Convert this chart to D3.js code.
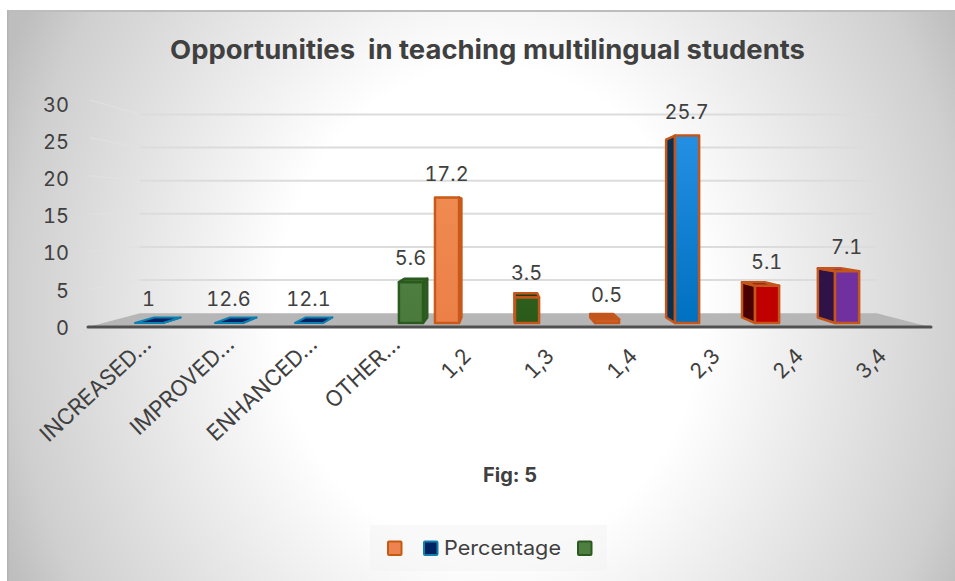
<!DOCTYPE html>
<html><head><meta charset="utf-8">
<script src="https://cdn.jsdelivr.net/npm/d3@7"></script>
<style>html,body{margin:0;padding:0;background:#fff}svg{display:block}text{font-variant-numeric:tabular-nums;font-feature-settings:"tnum"}</style>
</head><body><svg id="c" width="955" height="581"></svg>
<script>
const categories = ["INCREASED…","IMPROVED…","ENHANCED…","OTHER…","1,2","1,3","1,4","2,3","2,4","3,4"];
const seriesOrange = [null,null,null,null,17.2,3.5,0.5,25.7,5.1,7.1];
const seriesBlue   = [0,0,0,null,null,null,null,null,null,null];
const seriesGreen  = [null,null,null,5.6,null,null,null,null,null,null];
const dataLabels   = ["1","12.6","12.1","5.6","17.2","3.5","0.5","25.7","5.1","7.1"];
const yTicks = [0,5,10,15,20,25,30];
const legendNames = ["","Percentage",""];
const titleText = "Opportunities  in teaching multilingual students";
const captionText = "Fig: 5";

// styles per bar: front top, front bottom, side, top face, outline
const outline = "#c5561b";
const barStyles = [
 ["#002060","#002060","#002060","#002060","#0f7fb0"],
 ["#002060","#002060","#002060","#002060","#0f7fb0"],
 ["#002060","#002060","#002060","#002060","#0f7fb0"],
 ["#4f7f40","#4a7a3c","#2f5f22","#356a28","#2b5a1f"],
 ["#ef8a50","#ec8048","#c55a11","#d86d2a","#c8591a"],
 ["#2d5f1c","#2a5a18","#1f4512","#1d3f10",outline],
 ["#d0602a","#d0602a","#b04f1c","#c0561f",outline],
 ["#2490e4","#0070c0","#0b2f4f","#14507f",outline],
 ["#c00000","#c00000","#4a0000","#5f0a0a",outline],
 ["#7030a0","#7030a0","#2e1248","#5a2a80",outline]
];

const svg = d3.select("#c");
const defs = svg.append("defs");
const bg = defs.append("radialGradient").attr("id","bg").attr("gradientUnits","userSpaceOnUse")
  .attr("cx",0).attr("cy",0).attr("r",530)
  .attr("gradientTransform","translate(490,310) scale(1,1.15)");
[[0,"#fff"],[0.4,"#fff"],[0.9,"#cfcfcf"],[1,"#bebebe"]].forEach(s=>bg.append("stop").attr("offset",s[0]).attr("stop-color",s[1]));
barStyles.forEach((s,i)=>{
  const g = defs.append("linearGradient").attr("id","f"+i).attr("x1",0).attr("y1",0).attr("x2",0).attr("y2",1);
  g.append("stop").attr("offset",0).attr("stop-color",s[0]);
  g.append("stop").attr("offset",1).attr("stop-color",s[1]);
});

svg.append("rect").attr("x",7).attr("y",10).attr("width",948).attr("height",571).attr("fill","url(#bg)");
svg.append("rect").attr("x",7).attr("y",10).attr("width",948).attr("height",2).attr("fill","#bdbdbd");
svg.append("rect").attr("x",7).attr("y",10).attr("width",1.5).attr("height",571).attr("fill","#b4b4b4");

// perspective: front plane scales, shrunk toward a vanishing point
const vx = 504, vy = 216, sBack = 0.875, sFront = 0.964, sRear = 0.914;
const px = (x,s)=>vx+s*(x-vx), py = (y,s)=>vy+s*(y-vy);
const y = d3.scaleLinear().domain([0,30]).range([327,100]);
const yLab = d3.scaleLinear().domain([0,30]).range([327,104]);
const x = d3.scaleBand().domain(categories).range([94.2,924.2]);
const plotL = 88, plotR = 930;

// gridlines
const grid = svg.append("g");
yTicks.filter(t=>t>0).forEach(t=>{
  grid.append("line").attr("x1",plotL+2).attr("y1",y(t)).attr("x2",px(plotL,sBack)).attr("y2",py(y(t),sBack))
    .attr("stroke","#e2e2e2").attr("stroke-width",1.5).attr("opacity",0.7);
  grid.append("line").attr("x1",px(plotL,sBack)).attr("y1",py(y(t),sBack)).attr("x2",px(plotR,sBack)).attr("y2",py(y(t),sBack))
    .attr("stroke","#dcdcdc").attr("stroke-width",2);
});
// floor
const poly = pts=>pts.map(p=>p.join(",")).join(" ");
svg.append("polygon").attr("fill","#b6b6b6").attr("points",poly([
  [plotL,y(0)],[px(plotL,sBack),py(y(0),sBack)],[px(plotR,sBack),py(y(0),sBack)],[plotR,y(0)]]));
svg.append("line").attr("x1",plotL).attr("x2",plotR+1).attr("y1",y(0)).attr("y2",y(0))
  .attr("stroke","#505050").attr("stroke-width",3).attr("stroke-linecap","round");

// y axis
const axis = d3.axisLeft(yLab).tickValues(yTicks).tickSize(0).tickPadding(0);
const ga = svg.append("g").attr("transform","translate(69,0)").call(axis);
ga.select(".domain").remove();
ga.selectAll("text").attr("fill","#404040").style("font","20px Inter").style("font-variant-numeric","tabular-nums").attr("dy","0.36em");

// bars
const barW = 25, flatW = 29;
const rows = [[seriesOrange,-22.8],[seriesBlue,0],[seriesGreen,22.8]];
const barsG = svg.append("g");
rows.forEach(([vals,off])=>vals.forEach((v,i)=>{
  if(v===null) return;
  const c = x(categories[i])+x.bandwidth()/2+off;
  const w = v===0?flatW:barW;
  const l=c-w/2, r=c+w/2, st=barStyles[i], sw=v===0?2:2.5;
  const P=(xx,yy,s)=>[px(xx,s),py(yy,s)];
  const y0=y(0), yv=y(v);
  const face=(pts,fill)=>barsG.append("polygon").attr("points",poly(pts)).attr("fill",fill)
     .attr("stroke",st[4]).attr("stroke-width",sw).attr("stroke-linejoin","round");
  const sideX = c>vx ? l : r;
  face([P(sideX,y0,sFront),P(sideX,y0,sRear),P(sideX,yv,sRear),P(sideX,yv,sFront)],st[2]);
  if(py(yv,sFront)>vy) face([P(l,yv,sFront),P(l,yv,sRear),P(r,yv,sRear),P(r,yv,sFront)],st[3]);
  if(v>0) face([P(l,y0,sFront),P(r,y0,sFront),P(r,yv,sFront),P(l,yv,sFront)],`url(#f${i})`);
  svg.append("text").attr("x",px(c,sFront)-0.5).attr("y",py(yv,sFront)-17)
    .attr("text-anchor","middle").attr("fill","#404040").style("font","20px Inter").style("font-variant-numeric","tabular-nums").text(dataLabels[i]);
}));

// category labels
categories.forEach((d,i)=>{
  const long = d.length>4;
  const cx = x(d)+x.bandwidth()/2;
  svg.append("text").attr("text-anchor","end").attr("fill","#404040").style("font",long?"22px Inter":"21px Inter")
    .style("font-variant-numeric","tabular-nums")
    .attr("transform",`translate(${cx+(long?17:5)},${long?346:357}) rotate(${long?-43:-45})`).text(d);
});

// title + caption
svg.append("text").attr("x",487.5).attr("y",59).attr("text-anchor","middle").attr("fill","#404040")
  .attr("textLength",635).attr("lengthAdjust","spacingAndGlyphs")
  .style("font","bold 26px Inter").style("white-space","pre").text(titleText);
svg.append("text").attr("x",510).attr("y",482).attr("text-anchor","middle").attr("fill","#404040")
  .style("font","bold 20px Inter").text(captionText);

// legend
svg.append("rect").attr("x",370).attr("y",525).attr("width",237).attr("height",46).attr("fill","#f2f2f2").attr("opacity",.45);
const legX = [388,424,578], legFill=["#ed8350","#002060","#4f7f40"], legStroke=["#c55a11","#0f7fb0","#2b5a1f"];
legX.forEach((lx,i)=>{
  svg.append("rect").attr("x",lx).attr("y",541.5).attr("width",13.5).attr("height",13.5).attr("rx",1)
    .attr("fill",legFill[i]).attr("stroke",legStroke[i]).attr("stroke-width",2);
});
svg.append("text").attr("x",444).attr("y",555).attr("fill","#404040").attr("textLength",117).attr("lengthAdjust","spacingAndGlyphs")
  .style("font","20px Inter").text(legendNames[1]);
</script></body></html>
